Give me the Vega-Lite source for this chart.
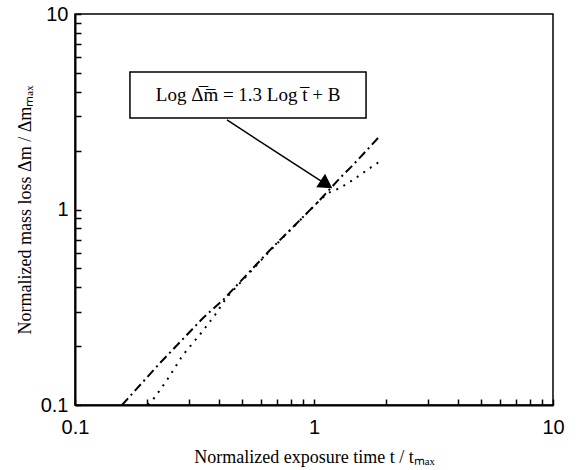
{
  "$schema": "https://vega.github.io/schema/vega-lite/v6.json",
  "width": 478,
  "height": 391,
  "autosize": {"type": "none"},
  "padding": {"left": 75, "top": 14, "right": 24, "bottom": 65},
  "background": "white",
  "config": {
    "view": {"stroke": "black", "strokeWidth": 1.5},
    "axis": {
      "grid": false,
      "domainColor": "black",
      "domainWidth": 2,
      "tickColor": "black",
      "tickWidth": 1.5,
      "tickSize": -6,
      "labelFont": "Liberation Sans",
      "labelFontSize": 20,
      "labelColor": "black",
      "labelFlush": false,
      "labelOverlap": false,
      "titleFont": "Liberation Serif",
      "titleFontSize": 18,
      "titleFontWeight": "normal",
      "titleColor": "black"
    }
  },
  "datasets": {
    "dashdot": [
      {"t": 0.1573, "m": 0.1},
      {"t": 0.2268, "m": 0.164},
      {"t": 0.3433, "m": 0.2786},
      {"t": 0.4162, "m": 0.3444},
      {"t": 0.6545, "m": 0.6206},
      {"t": 1.039, "m": 1.092},
      {"t": 1.285, "m": 1.449},
      {"t": 1.456, "m": 1.689},
      {"t": 1.666, "m": 2.015},
      {"t": 1.853, "m": 2.321}
    ],
    "dotted": [
      {"t": 0.202, "m": 0.1},
      {"t": 0.2162, "m": 0.1099},
      {"t": 0.2426, "m": 0.1342},
      {"t": 0.283, "m": 0.1803},
      {"t": 0.34, "m": 0.2363},
      {"t": 0.3853, "m": 0.2887},
      {"t": 0.4325, "m": 0.3568},
      {"t": 0.6545, "m": 0.615},
      {"t": 1.029, "m": 1.079},
      {"t": 1.144, "m": 1.214},
      {"t": 1.285, "m": 1.288},
      {"t": 1.456, "m": 1.416},
      {"t": 1.666, "m": 1.592},
      {"t": 1.925, "m": 1.792}
    ],
    "box": [{"x1": 0.1698, "x2": 1.651, "y1": 2.938, "y2": 5.05, "label": "Log Δ̅m̅ = 1.3 Log t̅ + B", "xc": 0.53, "yc": 3.85}],
    "arrow": [{"x1": 0.4325, "y1": 2.87, "x2": 1.15, "y2": 1.32}],
    "head": [{"x": 1.128, "y": 1.345}]
  },
  "layer": [
    {
      "data": {"name": "dashdot"},
      "mark": {"type": "line", "color": "black", "strokeWidth": 2, "strokeDash": [9, 4, 2, 4]},
      "encoding": {
        "x": {
          "field": "t", "type": "quantitative",
          "scale": {"type": "log", "domain": [0.1, 10], "nice": false},
          "axis": {
            "values": [0.1, 0.2, 0.3, 0.4, 0.5, 0.6, 0.7, 0.8, 0.9, 1, 2, 3, 4, 5, 6, 7, 8, 9, 10],
            "labelExpr": "(datum.value == 0.1 || datum.value == 1 || datum.value == 10) ? format(datum.value, '~g') : ''",
            "labelPadding": 18,
            "title": "Normalized exposure time  t / tₘₐₓ",
            "titlePadding": 11
          }
        },
        "y": {
          "field": "m", "type": "quantitative",
          "scale": {"type": "log", "domain": [0.1, 10], "nice": false},
          "axis": {
            "values": [0.1, 0.2, 0.3, 0.4, 0.5, 0.6, 0.7, 0.8, 0.9, 1, 2, 3, 4, 5, 6, 7, 8, 9, 10],
            "labelExpr": "(datum.value == 0.1 || datum.value == 1 || datum.value == 10) ? format(datum.value, '~g') : ''",
            "labelPadding": 13,
            "title": "Normalized mass loss  Δm / Δmₘₐₓ",
            "titlePadding": 6
          }
        }
      }
    },
    {
      "data": {"name": "dotted"},
      "mark": {"type": "line", "color": "black", "strokeWidth": 2, "strokeDash": [2, 6]},
      "encoding": {
        "x": {"field": "t", "type": "quantitative"},
        "y": {"field": "m", "type": "quantitative"}
      }
    },
    {
      "data": {"name": "box"},
      "mark": {"type": "rect", "fill": "white", "stroke": "black", "strokeWidth": 1.5},
      "encoding": {
        "x": {"field": "x1", "type": "quantitative"},
        "x2": {"field": "x2"},
        "y": {"field": "y1", "type": "quantitative"},
        "y2": {"field": "y2"}
      }
    },
    {
      "data": {"name": "box"},
      "mark": {"type": "text", "font": "Liberation Serif", "fontSize": 19, "color": "black", "align": "center", "baseline": "middle"},
      "encoding": {
        "x": {"field": "xc", "type": "quantitative"},
        "y": {"field": "yc", "type": "quantitative"},
        "text": {"field": "label"}
      }
    },
    {
      "data": {"name": "arrow"},
      "mark": {"type": "rule", "color": "black", "strokeWidth": 1.5},
      "encoding": {
        "x": {"field": "x1", "type": "quantitative"},
        "y": {"field": "y1", "type": "quantitative"},
        "x2": {"field": "x2"},
        "y2": {"field": "y2"}
      }
    },
    {
      "data": {"name": "head"},
      "mark": {"type": "point", "shape": "triangle-up", "filled": true, "color": "black", "opacity": 1, "size": 260, "angle": 123},
      "encoding": {
        "x": {"field": "x", "type": "quantitative"},
        "y": {"field": "y", "type": "quantitative"}
      }
    }
  ]
}
